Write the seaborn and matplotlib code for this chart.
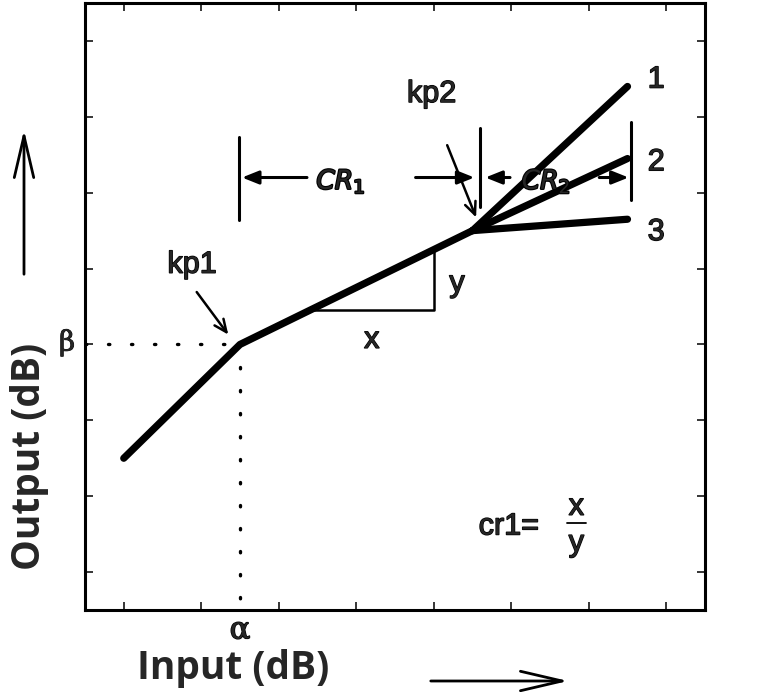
import matplotlib
matplotlib.use("Agg")
import matplotlib.pyplot as plt
import matplotlib.patheffects as pe
import seaborn as sns
import pandas as pd

# ---- data ----
base_input = [0.0, 1.5, 4.5]          # input dB at start, kp1, kp2
base_output = [1.5, 3.0, 4.5]         # output dB at start, kp1, kp2
branch_names = ["1", "2", "3"]
branch_end_input = 6.5
branch_end_output = [6.4, 5.45, 4.65]
alpha_x, beta_y = 1.5, 3.0
tri_x = [2.4, 4.0, 4.0]
tri_y = [3.45, 3.45, 4.25]
cr_bar_x = [1.49, 4.6, 6.55]
cr_y = 5.2

rows = []
for xi, yi in zip(base_input, base_output):
    rows.append({"curve": "base", "input": xi, "output": yi})
for name, ye in zip(branch_names, branch_end_output):
    rows.append({"curve": name, "input": base_input[-1], "output": base_output[-1]})
    rows.append({"curve": name, "input": branch_end_input, "output": ye})
df = pd.DataFrame(rows)

sns.set_style("ticks")
plt.rcParams['font.family'] = ['Liberation Sans', 'DejaVu Sans']

fig = plt.figure(figsize=(7.74, 6.92), dpi=100)
ax = fig.add_axes([85/774, 1-610/692, 620/774, 607/692])

sns.lineplot(data=df, x="input", y="output", units="curve", estimator=None,
             color="black", lw=5.2, ax=ax, solid_capstyle="round", sort=False)

ax.set_xlim(-0.5, 7.5)
ax.set_ylim(-0.5, 7.5)
ax.set_xticks(range(8))
ax.set_yticks(range(8))
ax.set_xticklabels([])
ax.set_yticklabels([])
ax.tick_params(direction="in", length=6, width=1.3, top=True, right=True,
               bottom=True, left=True)
for s in ax.spines.values():
    s.set_linewidth(2.2)
    s.set_color("black")
ax.set_xlabel("")
ax.set_ylabel("")

thick = [pe.withStroke(linewidth=1.0, foreground="black")]
tk = dict(fontsize=22, path_effects=thick)

# dotted guides
ax.plot([-0.5, alpha_x], [beta_y, beta_y], color="black", lw=2.4,
        linestyle=(0, (0.4, 6.5)), dash_capstyle="round")
ax.plot([alpha_x, alpha_x], [beta_y, -0.5], color="black", lw=2.4,
        linestyle=(0, (0.4, 6.5)), dash_capstyle="round")

# slope triangle
ax.plot(tri_x, tri_y, color="black", lw=1.8)
ax.text(3.2, 3.06, "x", ha="center", va="center", **tk)
ax.text(4.3, 3.8, "y", ha="center", va="center", **tk)

# knee point labels
ax.text(0.88, 4.05, "kp1", ha="center", va="center", **tk)
ax.text(3.97, 6.3, "kp2", ha="center", va="center", **tk)
ka = dict(arrowstyle="->,head_length=0.9,head_width=0.4", lw=1.8, color="black")
ax.annotate("", xy=(1.37, 3.1), xytext=(0.92, 3.72), arrowprops=ka)
ax.annotate("", xy=(4.56, 4.64), xytext=(4.16, 5.66), arrowprops=ka)

# branch labels
for name, ye in zip(branch_names, [6.49, 5.4, 4.48]):
    ax.text(6.87, ye, name, ha="center", va="center", **tk)

# CR dimension bars
for bx, (y0, y1) in zip(cr_bar_x, [(4.64, 5.73), (4.81, 5.85), (4.9, 5.93)]):
    ax.plot([bx, bx], [y0, y1], color="black", lw=2.2)
hw = dict(arrowstyle="-|>,head_length=1.0,head_width=0.4", lw=2.2, color="black")
ax.annotate("", xy=(cr_bar_x[0], cr_y), xytext=(2.4, cr_y), arrowprops=hw)
ax.annotate("", xy=(cr_bar_x[1] - 0.04, cr_y), xytext=(3.73, cr_y), arrowprops=hw)
ax.annotate("", xy=(cr_bar_x[1] + 0.03, cr_y), xytext=(5.02, cr_y), arrowprops=hw)
ax.annotate("", xy=(cr_bar_x[2], cr_y), xytext=(6.1, cr_y), arrowprops=hw)
ax.text(2.8, cr_y - 0.05, r"$\mathit{CR}_{1}$", fontsize=19,
        ha="center", va="center", path_effects=[pe.withStroke(linewidth=1.6, foreground="black")])
ax.text(5.45, cr_y - 0.05, r"$\mathit{CR}_{2}$", fontsize=19,
        ha="center", va="center", path_effects=[pe.withStroke(linewidth=1.6, foreground="black")])

# greek labels
fig.text(67/774, 1-343/692, "β", fontsize=20, ha="center", va="center",
         family=["DejaVu Serif"], path_effects=[pe.withStroke(linewidth=0.6, foreground="black")])
fig.text(240/774, 1-630/692, "α", fontsize=22, ha="center", va="center",
         family=["DejaVu Serif"], path_effects=[pe.withStroke(linewidth=1.0, foreground="black")])

# cr1 formula
ax.text(4.58, 0.6, "cr1=", ha="left", va="center", **tk)
ax.text(5.84, 0.86, "x", ha="center", va="center", **tk)
ax.text(5.84, 0.38, "y", ha="center", va="center", **tk)
ax.plot([5.72, 5.96], [0.65, 0.65], color="black", lw=1.3)

# axis labels
fig.text(30/774, 1-456/692, "Output (dB)", fontsize=28, fontweight="bold",
         rotation=90, ha="center", va="center", family=["Open Sans", "DejaVu Sans"])
fig.text(233/774, 1-668/692, "Input (dB)", fontsize=28, fontweight="bold",
         ha="center", va="center", family=["Open Sans", "DejaVu Sans"])

# direction arrows
ax_over = fig.add_axes([0, 0, 1, 1], facecolor="none")
ax_over.set_xlim(0, 774)
ax_over.set_ylim(692, 0)
ax_over.axis("off")
da = dict(arrowstyle="->,head_length=1.5,head_width=0.35", lw=2.0, color="black",
          mutation_scale=20)
ax_over.annotate("", xy=(24, 127), xytext=(24, 277), arrowprops=da)
ax_over.annotate("", xy=(571, 681), xytext=(428, 681), arrowprops=da)

fig.savefig("out.png", dpi=100)
